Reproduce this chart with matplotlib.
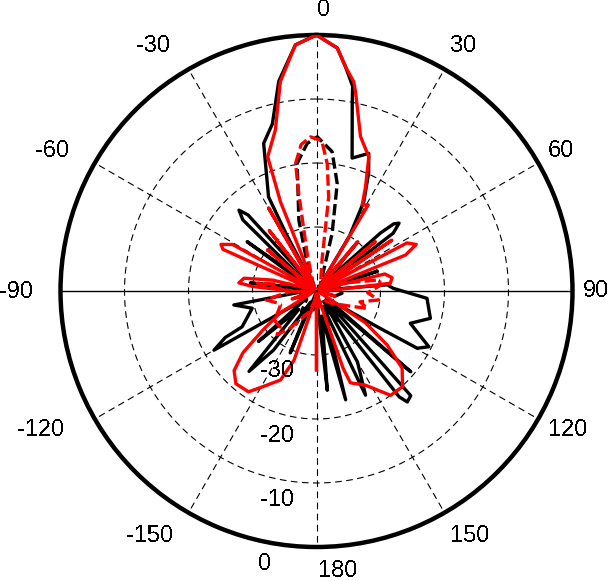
import numpy as np
import matplotlib
matplotlib.use("Agg")
import matplotlib.pyplot as plt

plt.rcParams['font.family'] = ['Liberation Sans', 'DejaVu Sans']
plt.rcParams['text.antialiased'] = False

# ---------------- data (angle in degrees, level in dB) ----------------
red_solid_ang = [-180, -178, -168, -162, -158, -150, -146, -139, -134, -130, -126, -121, -115,
                 -108, -100, -92, -86, -84, -80, -76, -72, -66, -64, -61, -58, -50, -45, -38, -34,
                 -30, -27, -22, -20, -14.3, -9.8, -4.9, 0, 4.9, 7.4, 10.1, 11.1, 15.9, 21.3,
                 25.2, 28, 31, 34, 40, 44, 50, 53, 56, 59, 62, 65, 68, 71, 76, 80, 84, 88,
                 95, 105, 115, 123, 127.4, 132, 138, 144.6, 152.5, 159.7, 161, 162, 170, 176,
                 178, 180]
red_solid_db = [-27.7, -39.5, -38, -28.6, -25, -22.6, -21, -20.8, -22.1, -25, -29.7, -33.4, -39,
                -36, -39.5, -37, -30, -27.8, -28.5, -33, -39.5, -24, -23.4, -25, -39, -30, -39.5, -28, -39.5,
                -25, -39.5, -25, -17.7, -14, -6.8, -1.4, 0, -1.9, -4.7, -6.8, -8.3, -14.9, -17.5,
                -22, -24.8, -24.3, -39, -30, -39.5, -28, -39.5, -25.8, -39, -24, -22.8, -25, -39, -29,
                -28, -28.4, -38, -39.5, -37, -39.5, -30.9, -26.1, -22, -19.9, -20, -23.4, -24.7, -27.2,
                -37, -39.5, -38, -39.5, -27.7]

black_solid_ang = [-180, -170, -163, -157, -152, -144, -140, -136, -131, -126, -120, -117, -115.7,
                   -105, -99.6, -95, -88, -83, -78, -70, -57, -54.6, -51, -46, -43.8, -42, -39,
                   -32, -28, -27, -19.7, -14.8, -10.2, -4.9, 0, 4.9, 7.4, 10, 10.8, 15, 20.8, 23.8,
                   27.9, 31, 35, 40, 44, 47.8, 49, 50.6, 53, 56, 65, 72, 78, 85, 88, 93.8, 103.5,
                   109, 116.4, 119.6, 120.5, 126, 130.6, 133, 138, 140.7, 142, 144, 150, 154.8, 157,
                   165, 168, 173.8, 176, 180]
black_solid_db = [-39.5, -37, -39.5, -29.5, -38, -28.6, -23.6, -36, -28, -38, -21.5, -24, -27.1,
                  -29.6, -26.9, -37, -39.5, -29.6, -38, -39.5, -37, -26.7, -38, -24, -22.5, -24, -38,
                  -39.5, -30, -23.5, -15.5, -13, -6.7, -1.4, 0, -1.9, -4.7, -7.5, -10.2, -18.5, -17, -19.8,
                  -24.2, -30, -39.5, -30, -38, -26.5, -24, -23.3, -25, -38, -39, -30, -39.5, -28.9, -28, -22.7, -21.7,
                  -24.5, -20.4, -21.9, -29, -38, -20.6, -38, -18, -17.6, -19, -38, -27.2, -22, -37,
                  -22.4, -36, -24.4, -38, -39.5]

black_dash_ang = [-180, -160, -144, -130, -110, -95, -80, -60, -40, -25, -18, -14, -8.6, -3.6, 0.3,
                  6.4, 10.9, 15.2, 20, 35, 55, 75, 95, 115, 130, 144.5, 160, 180]
black_dash_db = [-39, -37.5, -36, -38, -36.5, -38.5, -37, -39, -38, -39, -35, -28.6, -19.8, -16.9, -15.9,
                 -18.1, -22.9, -30.7, -37, -39, -37.5, -36.5, -36, -37.5, -36, -34.4, -37.5, -39]

red_dash_ang = [-180, -160, -145, -138, -134.8, -125, -111, -107, -100, -90, -82.6, -75, -55, -35,
                -20, -14, -10.3, -9.3, -6, -2.2, 2, 4.8, 7.4, 10, 20, 40, 60, 75, 80, 85, 92,
                98.2, 104, 109, 115, 130, 150, 170, 180]
red_dash_db = [-39, -36.5, -33, -30.8, -32, -32, -34, -33.6, -32, -36, -30.7, -36, -38, -39,
               -38, -34, -24.5, -19.8, -17, -15.9, -16.5, -20, -25.2, -35, -38, -39, -37.5, -35, -30, -30,
               -32, -30.2, -33, -31.6, -34.5, -37, -38.5, -37.5, -39]

angle_labels = ['0', '30', '60', '90', '120', '150', '180', '-150', '-120', '-90', '-60', '-30']
angle_label_px = [(324, 10), (463, 46), (561, 151), (596, 291), (568, 430), (470, 536),
                  (338, 571), (150, 536), (41, 430), (16, 292), (52, 151), (153, 46)]
radial_labels = ['-30', '-20', '-10', '0']
radial_label_px = [(277, 371), (277, 436), (277, 500), (265, 564)]

R_MIN, R_MAX = -40, 0
rings = [-30, -20, -10]
spokes = [0, 30, 60, 120, 150, 180, 210, 240, 300, 330]

# ---------------- figure ----------------
W, H = 610, 581
fig = plt.figure(figsize=(W / 100, H / 100), dpi=100)
ax = fig.add_axes([60 / W, (H - 547) / H, 513 / W, 512 / H], projection='polar')
ax.set_theta_zero_location('N')
ax.set_theta_direction(-1)
ax.set_rlim(R_MIN, R_MAX)
ax.grid(False)
ax.set_xticks([])
ax.set_yticks([])
ax.spines['polar'].set_linewidth(3.2)
ax.spines['polar'].set_color('black')

tt = np.linspace(0, 2 * np.pi, 721)
for rv in rings:
    ax.plot(tt, np.full_like(tt, rv), color='black', lw=0.8, ls=(0, (6, 4)), zorder=1)
for sp in spokes:
    t = np.deg2rad(sp)
    ax.plot([t, t], [R_MIN, R_MAX], color='black', lw=0.8, ls=(0, (6, 4)), zorder=1)
ax.plot([np.deg2rad(90), np.deg2rad(90)], [R_MIN, R_MAX], color='black', lw=1.0, zorder=1)
ax.plot([np.deg2rad(270), np.deg2rad(270)], [R_MIN, R_MAX], color='black', lw=1.0, zorder=1)

def th(a):
    return np.deg2rad(np.asarray(a, dtype=float))

ax.plot(th(black_solid_ang), black_solid_db, color='black', lw=2.4, zorder=3)
ax.plot(th(black_dash_ang), black_dash_db, color='black', lw=2.4, ls=(0, (3.4, 1.3)), zorder=3)
ax.plot(th(red_dash_ang), red_dash_db, color='#ff0000', lw=2.4, ls=(0, (3.4, 1.3)), zorder=4)
ax.plot(th(red_solid_ang), red_solid_db, color='#ff0000', lw=2.4, zorder=5)

for lab, (px, py) in zip(angle_labels, angle_label_px):
    fig.text(px / W, 1 - py / H, lab, ha='center', va='center', fontsize=17)
for lab, (px, py) in zip(radial_labels, radial_label_px):
    fig.text(px / W, 1 - py / H, lab, ha='center', va='center', fontsize=17, zorder=10)

fig.savefig('out.png', dpi=100)
